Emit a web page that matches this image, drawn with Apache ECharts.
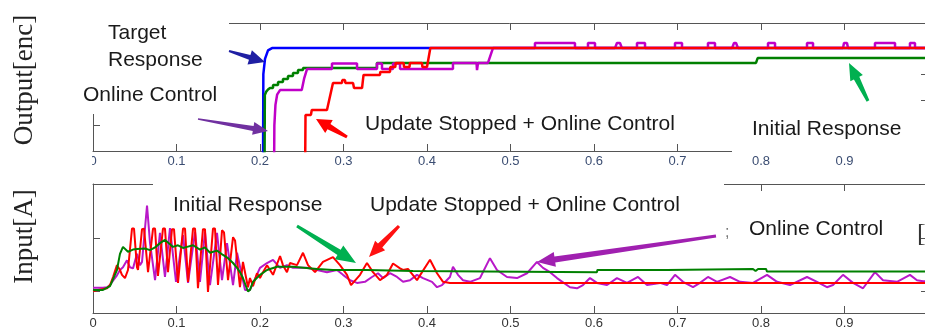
<!DOCTYPE html>
<html>
<head>
<meta charset="utf-8">
<script src="https://cdn.jsdelivr.net/npm/echarts@6/dist/echarts.min.js"></script>
<style>
  html, body { margin: 0; padding: 0; background: #fff; }
  #chart { width: 925px; height: 331px; }
</style>
</head>
<body>
<div id="chart"></div>
<script>
// x ticks (time) shared by both plots
const timeTicks = [0, 1, 0.1]          // min, max, step
const outputTicks = [0, 5, 1]          // min, max, step (upper plot)
const inputRange = [-0.4, 2]           // lower plot range
const inputTicks = [0, 1, 2]

// upper plot: Output[enc]
const targetOut = [[0, -1], [0.2036, -1], [0.2040, 3.0], [0.2060, 3.6], [0.2096, 3.93], [0.2144, 4.02], [1, 4.02]]

const initialOut = [[0, -1], [0.2054, -1], [0.2058, 2.19], [0.2075, 2.32], [0.2096, 2.40], [0.2120, 2.46],
  [0.2156, 2.46], [0.2156, 2.58], [0.2216, 2.58], [0.2216, 2.70], [0.2275, 2.70], [0.2275, 2.81],
  [0.2335, 2.81], [0.2335, 2.93], [0.2395, 2.93], [0.2395, 3.05], [0.2455, 3.05], [0.2455, 3.16],
  [0.2515, 3.16], [0.2515, 3.24], [0.3400, 3.24], [0.3400, 3.44], [0.7940, 3.44], [0.7960, 3.63], [1, 3.63]]

const onlineOut = [[0, -1], [0.2168, -1], [0.2172, 1.0], [0.2185, 1.8], [0.2205, 2.2], [0.2240, 2.38],
  [0.2500, 2.38], [0.2530, 2.85], [0.2563, 3.20], [0.2862, 3.20], [0.2862, 3.42], [0.3162, 3.42],
  [0.3162, 3.20], [0.3401, 3.20], [0.3401, 3.42], [0.3461, 3.42], [0.3461, 3.20], [0.3593, 3.20],
  [0.3593, 3.42], [0.3677, 3.42], [0.3677, 3.20], [0.4311, 3.20], [0.4311, 3.44], [0.4593, 3.44],
  [0.4599, 3.16], [0.4611, 3.44], [0.4730, 3.44], [0.4790, 4.02],
  [0.5293, 4.02], [0.5293, 4.22], [0.5772, 4.22], [0.5772, 4.02],
  [0.5928, 4.02], [0.5928, 4.22], [0.6012, 4.22], [0.6012, 4.02],
  [0.6251, 4.02], [0.6275, 4.22], [0.6311, 4.22], [0.6335, 4.02],
  [0.6515, 4.02], [0.6515, 4.22], [0.6611, 4.22], [0.6611, 4.02],
  [0.6970, 4.02], [0.6970, 4.22], [0.7054, 4.22], [0.7054, 4.02],
  [0.7365, 4.02], [0.7365, 4.22], [0.7449, 4.22], [0.7449, 4.02],
  [0.7653, 4.02], [0.7677, 4.22], [0.7701, 4.22], [0.7725, 4.02],
  [0.8084, 4.02], [0.8084, 4.22], [0.8168, 4.22], [0.8168, 4.02],
  [0.8551, 4.02], [0.8551, 4.22], [0.8623, 4.22], [0.8623, 4.02],
  [0.8982, 4.02], [0.8994, 4.22], [0.9030, 4.22], [0.9042, 4.02],
  [0.9365, 4.02], [0.9365, 4.22], [0.9605, 4.22], [0.9605, 4.02],
  [0.9784, 4.02], [0.9784, 4.22], [0.9844, 4.22], [0.9844, 4.02], [1, 4.02]]

const stoppedOut = [[0, -1], [0.2540, -1], [0.2545, 1.41], [0.2610, 1.41], [0.2620, 1.60], [0.2802, 1.60],
  [0.2874, 2.66], [0.2982, 2.66], [0.2986, 2.77], [0.3018, 2.77], [0.3022, 2.66], [0.3114, 2.66],
  [0.3126, 2.46], [0.3222, 2.46], [0.3240, 2.97], [0.3437, 2.97], [0.3440, 3.09], [0.3557, 3.09],
  [0.3560, 3.28], [0.3620, 3.28], [0.3625, 3.44], [0.3720, 3.44], [0.3725, 3.28], [0.3790, 3.28],
  [0.3795, 3.44], [0.3940, 3.44], [0.3945, 3.28], [0.4000, 3.28], [0.4040, 4.02], [1, 4.02]]

// lower plot: Input[A]
const initialIn = [[0, 0.03], [0.012, 0.03], [0.0204, 0.10], [0.0287, 0.40], [0.0323, 0.70], [0.0359, 0.83],
  [0.0419, 0.74], [0.0479, 0.78], [0.0527, 0.79], [0.0623, 0.80], [0.0683, 0.77], [0.0743, 0.82],
  [0.0802, 0.90], [0.0862, 0.96], [0.0922, 0.88], [0.0958, 0.83], [0.1018, 0.86], [0.1078, 0.81],
  [0.1126, 0.83], [0.1198, 0.86], [0.1281, 0.78], [0.1341, 0.82], [0.1401, 0.72], [0.1485, 0.76],
  [0.1557, 0.68], [0.1617, 0.62], [0.1677, 0.53], [0.1725, 0.44], [0.1760, 0.36], [0.1796, 0.25],
  [0.1856, 0.00], [0.1880, 0.03], [0.1916, 0.18], [0.2000, 0.31], [0.2084, 0.40], [0.2204, 0.46],
  [0.2395, 0.46], [0.2683, 0.42], [0.2874, 0.40], [0.3281, 0.40], [0.3832, 0.38], [0.3840, 0.36],
  [0.6036, 0.36], [0.6040, 0.40], [0.6874, 0.40], [0.6880, 0.42], [0.7904, 0.42], [0.7935, 0.38],
  [0.7965, 0.42], [0.8060, 0.42], [0.8072, 0.37], [1, 0.37]]

const onlineIn = [[0, 0.07], [0.0120, 0.07], [0.0168, 0.08], [0.0204, 0.12], [0.0240, 0.20], [0.0287, 0.30],
  [0.0323, 0.40], [0.0359, 0.45], [0.0407, 0.58], [0.0443, 0.45], [0.0479, 0.43], [0.0527, 0.70],
  [0.0563, 0.49], [0.0587, 0.55], [0.0647, 1.60], [0.0683, 0.90], [0.0743, 0.21], [0.0802, 1.09],
  [0.0862, 0.27], [0.0922, 1.18], [0.0994, 0.18], [0.1078, 1.05], [0.1138, 0.16], [0.1222, 1.11],
  [0.1281, 0.18], [0.1341, 1.11], [0.1401, 0.12], [0.1485, 1.09], [0.1545, 0.21], [0.1605, 0.90],
  [0.1677, 0.12], [0.1725, 0.72], [0.1820, 0.03], [0.1880, 0.03], [0.2000, 0.44], [0.2084, 0.53],
  [0.2156, 0.59], [0.2240, 0.44], [0.2323, 0.49], [0.2395, 0.44], [0.2563, 0.44], [0.2683, 0.40],
  [0.2802, 0.36], [0.2922, 0.40], [0.2994, 0.31], [0.3078, 0.21], [0.3162, 0.16], [0.3257, 0.18],
  [0.3341, 0.27], [0.3413, 0.34], [0.3473, 0.25], [0.3557, 0.34], [0.3641, 0.27], [0.3713, 0.18],
  [0.3796, 0.21], [0.3880, 0.31], [0.3952, 0.25], [0.4060, 0.18], [0.4120, 0.08], [0.4180, 0.12],
  [0.4275, 0.27], [0.4311, 0.46], [0.4371, 0.31], [0.4431, 0.21], [0.4515, 0.18], [0.4635, 0.25],
  [0.4754, 0.62], [0.4838, 0.40], [0.4958, 0.27], [0.5078, 0.25], [0.5198, 0.34], [0.5317, 0.55],
  [0.5389, 0.44], [0.5473, 0.36], [0.5557, 0.25], [0.5713, 0.08], [0.5796, 0.06], [0.5868, 0.12],
  [0.5952, 0.25], [0.6036, 0.16], [0.6156, 0.12], [0.6275, 0.25], [0.6395, 0.16], [0.6527, 0.27],
  [0.6635, 0.12], [0.6790, 0.16], [0.6874, 0.12], [0.6970, 0.31], [0.7066, 0.18], [0.7186, 0.08],
  [0.7269, 0.16], [0.7365, 0.27], [0.7473, 0.18], [0.7629, 0.27], [0.7749, 0.18], [0.7904, 0.16],
  [0.8072, 0.31], [0.8192, 0.18], [0.8347, 0.12], [0.8551, 0.27], [0.8671, 0.18], [0.8790, 0.08],
  [0.8862, 0.12], [0.8982, 0.31], [0.9102, 0.16], [0.9222, 0.06], [0.9365, 0.36], [0.9461, 0.21],
  [0.9629, 0.18], [0.9784, 0.31], [0.9868, 0.21], [0.9940, 0.19], [1, 0.19]]

const stoppedIn = [[0, 0.01], [0.0168, 0.06], [0.0204, 0.12], [0.0240, 0.27], [0.0287, 0.49], [0.0323, 0.40],
  [0.0347, 0.31], [0.0383, 0.25], [0.0419, 0.40], [0.0467, 1.17], [0.0491, 1.17], [0.0527, 0.45],
  [0.0539, 0.40], [0.0587, 1.16], [0.0611, 1.17], [0.0659, 0.36], [0.0719, 1.17], [0.0743, 1.17],
  [0.0778, 0.29], [0.0838, 1.17], [0.0862, 1.17], [0.0898, 0.36], [0.0946, 1.16], [0.0970, 1.16],
  [0.1018, 0.16], [0.1078, 1.17], [0.1102, 1.17], [0.1138, 0.18], [0.1198, 1.17], [0.1222, 1.17],
  [0.1257, 0.06], [0.1317, 1.16], [0.1341, 1.16], [0.1377, -0.01], [0.1437, 1.17], [0.1461, 1.17],
  [0.1497, 0.12], [0.1545, 1.14], [0.1569, 1.10], [0.1617, 0.21], [0.1677, 1.01], [0.1701, 0.95],
  [0.1760, 0.08], [0.1796, 0.55], [0.1856, 0.08], [0.1880, 0.25], [0.1916, 0.10], [0.1964, 0.34],
  [0.2000, 0.25], [0.2036, 0.36], [0.2084, 0.49], [0.2156, 0.31], [0.2240, 0.66], [0.2275, 0.49],
  [0.2323, 0.36], [0.2359, 0.53], [0.2443, 0.49], [0.2515, 0.72], [0.2575, 0.49], [0.2659, 0.36],
  [0.2754, 0.55], [0.2874, 0.64], [0.2958, 0.49], [0.3042, 0.31], [0.3090, 0.12], [0.3198, 0.31],
  [0.3281, 0.53], [0.3353, 0.36], [0.3437, 0.21], [0.3521, 0.31], [0.3593, 0.52], [0.3677, 0.43],
  [0.3713, 0.40], [0.3772, 0.42], [0.3880, 0.21], [0.3916, 0.30], [0.4036, 0.59], [0.4120, 0.34],
  [0.4192, 0.18], [0.4275, 0.16], [1, 0.16]]

const font = '"Liberation Sans", Arial, sans-serif'
const axisColor = '#555'

// 粗箭头：尾部细，箭头三角
function arrow(x1, y1, x2, y2, color, w0, w1, hl, hw) {
  const a = Math.atan2(y2 - y1, x2 - x1)
  const c = Math.cos(a), s = Math.sin(a)
  const bx = x2 - hl * c, by = y2 - hl * s
  const n = k => [-s * k / 2, c * k / 2]
  const [n0x, n0y] = n(w0), [n1x, n1y] = n(w1), [nhx, nhy] = n(hw)
  return {
    type: 'polygon', z: 70,
    shape: {points: [
      [x1 + n0x, y1 + n0y], [bx + n1x, by + n1y], [bx + nhx, by + nhy], [x2, y2],
      [bx - nhx, by - nhy], [bx - n1x, by - n1y], [x1 - n0x, y1 - n0y]
    ]},
    style: {fill: color}
  }
}

function label(text, x, y, size = 21) {
  return {type: 'text', z: 60, x, y, style: {text, fill: '#1a1a1a', font: size + 'px ' + font, align: 'left', verticalAlign: 'middle'}}
}

function whiteBox(x, y, width, height) {
  return {type: 'rect', z: 50, shape: {x, y, width, height}, style: {fill: '#fff'}}
}

function xAx(gridIndex, position, labelColor) {
  return {
    type: 'value', gridIndex, position,
    min: timeTicks[0], max: timeTicks[1], interval: timeTicks[2],
    axisLine: {show: true, onZero: false, lineStyle: {color: axisColor, width: 1}},
    axisTick: {show: true, inside: true, length: 7, lineStyle: {color: axisColor}},
    axisLabel: {show: !!labelColor, color: labelColor, fontSize: 13, fontFamily: font, margin: 4},
    splitLine: {show: false}
  }
}

function yAx(gridIndex, position, extra) {
  return Object.assign({
    type: 'value', gridIndex, position,
    axisLine: {show: true, onZero: false, lineStyle: {color: axisColor, width: 1}},
    axisTick: {show: true, inside: true, length: 7, lineStyle: {color: axisColor}},
    axisLabel: {show: false},
    splitLine: {show: false}
  }, extra)
}

function line(data, color, width, xi, yi, z) {
  return {
    type: 'line', data, xAxisIndex: xi, yAxisIndex: yi, z,
    showSymbol: false, symbol: 'none', clip: true,
    lineStyle: {color, width}, itemStyle: {color}
  }
}

const myChart = echarts.init(document.getElementById('chart'))

const outY = {min: outputTicks[0], max: outputTicks[1], interval: outputTicks[2]}
const inY = {
  min: inputRange[0], max: inputRange[1],
  axisTick: {show: true, inside: true, length: 7, lineStyle: {color: axisColor}, customValues: inputTicks}
}

myChart.setOption({
  animation: false,
  grid: [
    {left: 93, top: 23, width: 835, height: 128, outerBoundsMode: 'none', containLabel: false},
    {left: 93, top: 184, width: 835, height: 129, outerBoundsMode: 'none', containLabel: false}
  ],
  xAxis: [
    xAx(0, 'bottom', '#3b4d72'),
    xAx(0, 'top', null),
    xAx(1, 'bottom', '#333'),
    xAx(1, 'top', null)
  ],
  yAxis: [
    yAx(0, 'left', outY),
    yAx(0, 'right', outY),
    yAx(1, 'left', inY),
    yAx(1, 'right', inY)
  ],
  series: [
    line(targetOut, '#0000ff', 2.5, 0, 0, 2),
    line(initialOut, '#008000', 2.5, 0, 0, 3),
    line(onlineOut, '#c000c8', 2.5, 0, 0, 4),
    line(stoppedOut, '#ff0000', 2.5, 0, 0, 5),
    line(onlineIn, '#b818c8', 2, 2, 2, 2),
    line(stoppedIn, '#ff0000', 2, 2, 2, 3),
    line(initialIn, '#008000', 2, 2, 2, 4)
  ],
  graphic: {
    elements: [
      // 遮挡框（原图拼贴留下的白底）
      whiteBox(60, 0, 169, 114),
      whiteBox(732, 112, 200, 41),
      whiteBox(153, 172, 571, 46),
      whiteBox(70, 154, 22, 16),

      // 纵轴名
      {type: 'text', z: 60, x: 24.5, y: 80, rotation: Math.PI / 2,
        style: {text: 'Output[enc]', fill: '#222', font: '27px "Liberation Serif", serif', align: 'center', verticalAlign: 'middle'}},
      {type: 'text', z: 60, x: 24.5, y: 236.5, rotation: Math.PI / 2,
        style: {text: 'Input[A]', fill: '#222', font: '27px "Liberation Serif", serif', align: 'center', verticalAlign: 'middle'}},

      // 上图标注
      label('Target', 108, 33.5),
      label('Response', 108, 60),
      label('Online Control', 83, 95.5),
      label('Update Stopped + Online Control', 365, 124.5),
      label('Initial Response', 752, 129.5),

      // 下图标注
      label('Initial Response', 173, 205.5),
      label('Update Stopped + Online Control', 370, 205.5),
      label('Online Control', 749, 229.5),
      {type: 'text', z: 60, x: 725, y: 233, style: {text: ';', fill: '#777', font: '16px ' + font, align: 'left', verticalAlign: 'middle'}},
      {type: 'text', z: 60, x: 917, y: 234, style: {text: '[', fill: '#333', font: '26px "Liberation Serif", serif', align: 'left', verticalAlign: 'middle'}},

      // 箭头
      arrow(229, 51, 265, 62, '#1f1fa3', 2, 5, 16, 15),
      arrow(198, 119, 268, 131, '#7030a0', 1.5, 5, 15, 13),
      arrow(347, 137, 316, 119, '#ff0000', 3, 6, 15, 15),
      arrow(868, 101, 849, 63, '#00b050', 3, 6, 17, 14),
      arrow(297, 226, 356, 263, '#00b050', 3, 6, 20, 16),
      arrow(399, 226, 369, 257, '#ff1111', 3, 6, 16, 14),
      arrow(716, 236, 537, 262, '#a020b0', 3, 6, 18, 15)
    ]
  }
})
</script>
</body>
</html>
